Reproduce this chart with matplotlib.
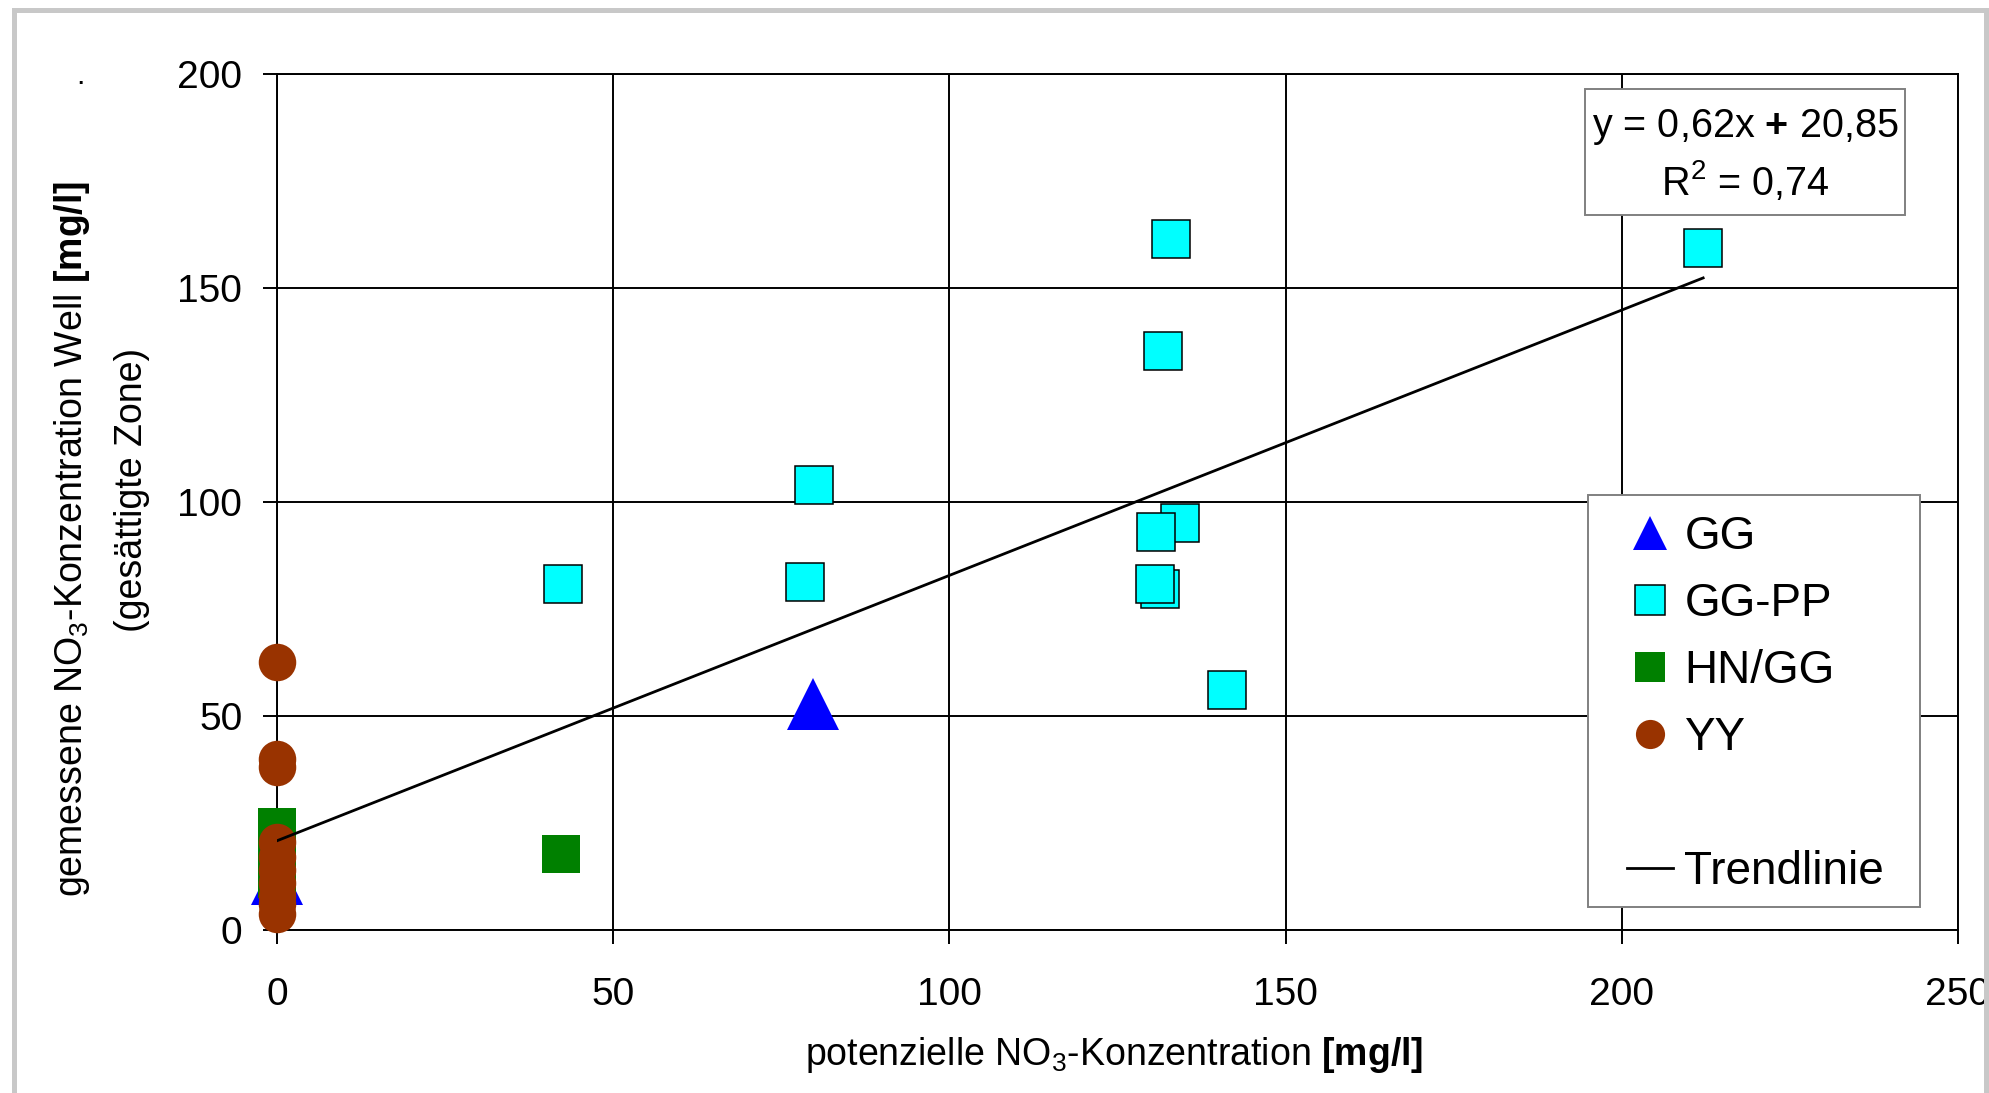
import matplotlib
matplotlib.use("Agg")
import matplotlib.pyplot as plt
from matplotlib.lines import Line2D
from matplotlib.patches import Rectangle

plt.rcParams['font.family'] = ['Liberation Sans', 'DejaVu Sans']
plt.rcParams['mathtext.fontset'] = 'custom'
plt.rcParams['mathtext.rm'] = 'Liberation Sans'
plt.rcParams['mathtext.it'] = 'Liberation Sans:italic'
plt.rcParams['mathtext.bf'] = 'Liberation Sans:bold'

#Data (x = potenzielle, y = gemessene NO3-Konzentration)
ggX = [0, 79.7]
ggY = [12, 52.8]

ggppX = [42.5, 78.5, 79.8, 131.3, 130.6, 134.3, 130.8, 131.7, 132.9, 141.3, 212.1]
ggppY = [80.9, 81.3, 104.0, 79.6, 80.9, 95.1, 93.1, 135.2, 161.5, 56.0, 159.4]

hnggX = [0, 0, 0, 42.2]
hnggY = [24, 18, 12, 17.7]

yyX = [0, 0, 0, 0, 0, 0, 0, 0, 0, 0]
yyY = [62.7, 40, 38, 20.6, 17, 14, 11, 8, 6, 3.7]

#Trendline from the chart
slope = 0.62
intercept = 20.85
rSquared = 0.74

xTicks = [0, 50, 100, 150, 200, 250]
yTicks = [0, 50, 100, 150, 200]

W, H = 1990, 1093
fig = plt.figure(figsize=(W/100, H/100), dpi=100)

#Outer gray frame
fig.patches.append(Rectangle((14/W, -0.2), 1972/W, 1.2 - 10/H, transform=fig.transFigure,
                             fill=False, edgecolor='#c8c8c8', linewidth=3.6))

ax = fig.add_axes([277/W, 1 - 930/H, (1958-277)/W, (930-74)/H])

ax.plot(ggX, ggY, linestyle='none', marker='^', markersize=38, color='#0000ff',
        markeredgewidth=0, clip_on=False, zorder=3)
ax.plot(ggppX, ggppY, linestyle='none', marker='s', markersize=27, markerfacecolor='#00ffff',
        markeredgecolor='#000000', markeredgewidth=1.1, clip_on=False, zorder=4)
ax.plot(hnggX, hnggY, linestyle='none', marker='s', markersize=27, color='#008000',
        markeredgewidth=0, clip_on=False, zorder=5)
ax.plot(yyX, yyY, linestyle='none', marker='o', markersize=27, color='#993300',
        markeredgewidth=0, clip_on=False, zorder=6)

#Trendline over the range of x values
allX = ggX + ggppX + hnggX + yyX
xs = [min(allX), max(allX)]
ax.plot(xs, [slope*x + intercept for x in xs], color='black', linewidth=2.0, zorder=7)

ax.set_xlim(0, 250)
ax.set_ylim(0, 200)
ax.set_xticks(xTicks)
ax.set_yticks(yTicks)
ax.grid(True, color='black', linewidth=1.4)
ax.set_axisbelow(True)
for s in ax.spines.values():
    s.set_linewidth(1.4)
    s.set_color('black')
ax.tick_params(axis='both', labelsize=28, length=10, width=1.4, direction='out')
ax.tick_params(axis='x', pad=24)
ax.tick_params(axis='y', pad=15)

#Axis labels
fig.text(1114/W, 1 - 1055/H, r"potenzielle NO$_3$-Konzentration $\mathbf{[mg/l]}$",
         fontsize=27, ha='center', va='center')
fig.text(72/W, 1 - 539/H, r"gemessene NO$_3$-Konzentration Well $\mathbf{[mg/l]}$",
         fontsize=27, ha='center', va='center', rotation=90)
fig.text(132/W, 1 - 490/H, "(gesättigte Zone)", fontsize=27, ha='center', va='center', rotation=90)
fig.text(80/W, 1 - 84/H, ".", fontsize=22, ha='center', va='baseline')

#Equation box
fig.patches.append(Rectangle((1585/W, 1 - 215/H), 320/W, 126/H, transform=fig.transFigure,
                             facecolor='white', edgecolor='#808080', linewidth=1.4, zorder=10))
eqText = "y = " + ("%.2f" % slope).replace(".", ",") + r"x $\mathbf{+}$ " + ("%.2f" % intercept).replace(".", ",")
r2Text = r"R$^2$ = " + ("%.2f" % rSquared).replace(".", ",")
fig.text(1745/W, 1 - 127/H, eqText, fontsize=28.5, ha='center', va='center', zorder=11)
fig.text(1745/W, 1 - 181/H, r2Text, fontsize=28.5, ha='center', va='center', zorder=11)

#Legend frame drawn separately, entries placed inside it
fig.patches.append(Rectangle((1588/W, 1 - 907/H), 332/W, 412/H, transform=fig.transFigure,
                             facecolor='white', edgecolor='#808080', linewidth=1.4, zorder=10))
handles = [
    Line2D([], [], linestyle='none', marker='^', markersize=25, color='#0000ff', markeredgewidth=0),
    Line2D([], [], linestyle='none', marker='s', markersize=21, markerfacecolor='#00ffff',
           markeredgecolor='black', markeredgewidth=1.1),
    Line2D([], [], linestyle='none', marker='s', markersize=21, color='#008000', markeredgewidth=0),
    Line2D([], [], linestyle='none', marker='o', markersize=21, color='#993300', markeredgewidth=0),
    Line2D([], [], linestyle='none'),
    Line2D([], [], color='black', linewidth=2.0),
]
labels = ["GG", "GG-PP", "HN/GG", "YY", " ", "Trendlinie"]
leg = fig.legend(handles, labels, loc='upper left', bbox_to_anchor=(1627/W, 1 - 515/H),
                 bbox_transform=fig.transFigure, fontsize=33, frameon=False,
                 handlelength=1.0, handletextpad=0.25, labelspacing=0.5,
                 borderpad=0, borderaxespad=0)
leg.set_zorder(12)

plt.savefig("out.png", dpi=100)
